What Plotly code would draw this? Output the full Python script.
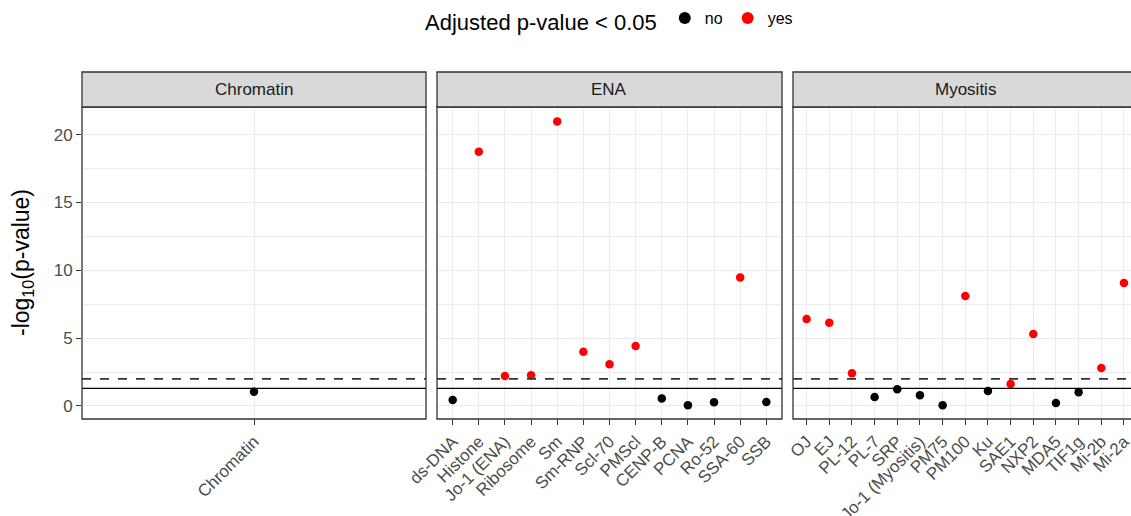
import plotly.graph_objects as go

W, H = 1131, 516

# ---------------- data ----------------
chromatin_cats = ["Chromatin"]
chromatin_vals = [1.05]
chromatin_sig = ["no"]

ena_cats = ["ds-DNA", "Histone", "Jo-1 (ENA)", "Ribosome", "Sm", "Sm-RNP", "Scl-70",
            "PMScl", "CENP-B", "PCNA", "Ro-52", "SSA-60", "SSB"]
ena_vals = [0.44, 18.75, 2.21, 2.26, 20.98, 4.0, 3.07, 4.42, 0.56, 0.05, 0.27, 9.48, 0.29]
ena_sig = ["no", "yes", "yes", "yes", "yes", "yes", "yes", "yes", "no", "no", "no", "yes", "no"]

myo_cats = ["OJ", "EJ", "PL-12", "PL-7", "SRP", "Jo-1 (Myositis)", "PM75", "PM100", "Ku",
            "SAE1", "NXP2", "MDA5", "TIF1g", "Mi-2b", "Mi-2a"]
myo_vals = [6.41, 6.14, 2.41, 0.66, 1.23, 0.79, 0.05, 8.11, 1.11, 1.62, 5.31, 0.22, 1.01, 2.80, 9.07]
myo_sig = ["yes", "yes", "yes", "no", "no", "no", "no", "yes", "no", "yes", "yes", "no", "no", "yes", "yes"]

panel_names = ["Chromatin", "ENA", "Myositis"]
threshold_solid = 1.301   # -log10(0.05)
threshold_dashed = 2.0

sig_colors = {"no": "#000000", "yes": "#FF0000"}

# ---------------- layout geometry (pixels) ----------------
def px(x):
    return x / W

def py(y):
    return 1 - y / H

panels = [
    dict(cats=chromatin_cats, vals=chromatin_vals, sig=chromatin_sig,
         dom=[px(82), px(426)], rng=[-0.6, 0.6]),
    dict(cats=ena_cats, vals=ena_vals, sig=ena_sig,
         dom=[px(437), px(782)], rng=[-0.6, len(ena_cats) - 1 + 0.6]),
    dict(cats=myo_cats, vals=myo_vals, sig=myo_sig,
         dom=[px(793), 1.0], rng=[-0.6, 14.31]),
]
ydom = [py(419), py(107)]
yrng = [-0.96, 22.04]

fig = go.Figure()
shown = set()
for i, p in enumerate(panels):
    ax = "" if i == 0 else str(i + 1)
    for level in ["no", "yes"]:
        xs = [c for c, s in zip(p["cats"], p["sig"]) if s == level]
        ys = [v for v, s in zip(p["vals"], p["sig"]) if s == level]
        if not xs:
            continue
        fig.add_trace(go.Scatter(
            x=xs, y=ys, mode="markers", name=level, legendgroup=level,
            showlegend=level not in shown,
            legendrank=1 if level == "no" else 2,
            marker=dict(color=sig_colors[level], size=8.5),
            xaxis="x" + ax, yaxis="y" + ax, cliponaxis=False,
        ))
        shown.add(level)

grid = "#EBEBEB"
border = "#333333"
layout = dict(
    width=W, height=H,
    margin=dict(l=0, r=0, t=0, b=0, autoexpand=False),
    paper_bgcolor="white", plot_bgcolor="white",
    font=dict(family="Liberation Sans, Arial, sans-serif", color="#000000"),
    showlegend=True,
    legend=dict(
        orientation="h", x=px(423), xanchor="left", y=py(1), yanchor="top",
        title=dict(text="Adjusted p-value < 0.05", font=dict(size=22, color="#000000")),
        font=dict(size=16, color="#000000"), itemsizing="constant",
        bgcolor="rgba(0,0,0,0)", traceorder="normal",
    ),
)
shapes = []
annotations = []
for i, p in enumerate(panels):
    ax = "" if i == 0 else str(i + 1)
    layout["xaxis" + ax] = dict(
        domain=p["dom"], anchor="y" + ax, type="category",
        categoryorder="array", categoryarray=p["cats"], range=p["rng"],
        showgrid=True, gridcolor=grid, gridwidth=1.1, zeroline=False,
        ticks="outside", ticklen=5, tickwidth=1.1, tickcolor=border,
        tickangle=-45, tickfont=dict(size=17, color="#4D4D4D"),
        showline=False, fixedrange=True, automargin=False,
    )
    layout["yaxis" + ax] = dict(
        domain=ydom, anchor="x" + ax, range=yrng,
        tickvals=[0, 5, 10, 15, 20], showgrid=True, gridcolor=grid, gridwidth=1.1,
        minor=dict(tickvals=[2.5, 7.5, 12.5, 17.5], showgrid=True, gridcolor=grid, gridwidth=0.55),
        zeroline=False, showline=False,
        ticks="outside" if i == 0 else "", ticklen=5, tickwidth=1.1, tickcolor=border,
        showticklabels=(i == 0), tickfont=dict(size=17, color="#4D4D4D"),
        fixedrange=True, automargin=False,
    )
    xref_d = "x" + ax + " domain"
    yref_d = "y" + ax + " domain"
    x1 = 1.05 if i == 2 else 1
    # threshold lines
    shapes.append(dict(type="line", xref=xref_d, yref="y" + ax, x0=0, x1=x1,
                       y0=threshold_dashed, y1=threshold_dashed,
                       line=dict(color=border, width=1.6, dash="dash"), layer="above"))
    shapes.append(dict(type="line", xref=xref_d, yref="y" + ax, x0=0, x1=x1,
                       y0=threshold_solid, y1=threshold_solid,
                       line=dict(color="#000000", width=1.3), layer="above"))
    # panel border
    shapes.append(dict(type="rect", xref=xref_d, yref=yref_d, x0=0, x1=x1, y0=0, y1=1,
                       line=dict(color=border, width=1.3), fillcolor="rgba(0,0,0,0)",
                       layer="above"))
    # strip
    shapes.append(dict(type="rect", xref=xref_d, yref="paper", x0=0, x1=x1,
                       y0=py(107), y1=py(72),
                       line=dict(color=border, width=1.3), fillcolor="#D9D9D9",
                       layer="above"))
    xc = p["dom"][0] + 172 / W
    annotations.append(dict(text=panel_names[i], xref="paper", yref="paper",
                            x=xc, y=py(89.5), showarrow=False,
                            font=dict(size=17, color="#1A1A1A"),
                            xanchor="center", yanchor="middle"))

annotations.append(dict(text="-log<sub>10</sub>(p-value)", xref="paper", yref="paper",
                        x=px(22), y=py(263), textangle=-90, showarrow=False,
                        font=dict(size=23, color="#000000"),
                        xanchor="center", yanchor="middle"))
layout["shapes"] = shapes
layout["annotations"] = annotations
fig.update_layout(**layout)

fig.write_html(
    "out.html",
    config={"displayModeBar": False},
    post_script="document.body.style.margin='0px';document.body.style.padding='0px';",
)
